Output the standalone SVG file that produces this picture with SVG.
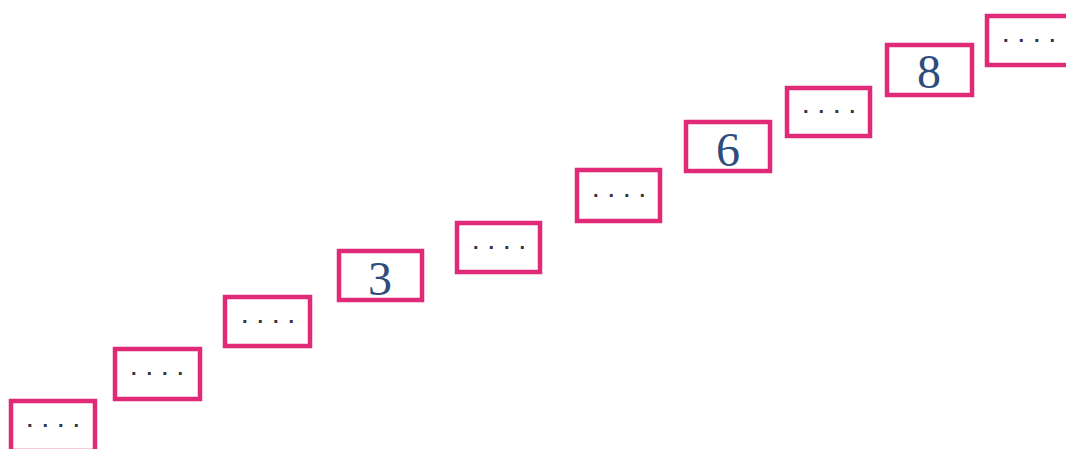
<svg xmlns="http://www.w3.org/2000/svg" width="1066" height="449" viewBox="0 0 1066 449">
<style>
.box{fill:#ffffff;stroke:#e02a78;stroke-width:4.5}
.dots{font-family:"Liberation Sans",Arial,sans-serif;font-size:20px;font-weight:bold;fill:#333340;text-anchor:middle;letter-spacing:10px}
.num{font-family:"Liberation Serif","Times New Roman",serif;font-size:48px;fill:#2e4d7c;text-anchor:middle}
</style>
<rect width="1066" height="449" fill="#ffffff"/>
<g id="node1"><rect class="box" x="11" y="401" width="84" height="50"/><text class="dots" x="58" y="427">....</text></g>
<g id="node2"><rect class="box" x="115" y="349" width="85" height="50"/><text class="dots" x="162" y="375">....</text></g>
<g id="node3"><rect class="box" x="225" y="297" width="85" height="49"/><text class="dots" x="273" y="323">....</text></g>
<g id="node4"><rect class="box" x="339" y="251" width="83" height="49"/><text class="num" x="380" y="295">3</text></g>
<g id="node5"><rect class="box" x="457" y="223" width="83" height="49"/><text class="dots" x="504" y="249">....</text></g>
<g id="node6"><rect class="box" x="577" y="170" width="83" height="51"/><text class="dots" x="624" y="197">....</text></g>
<g id="node7"><rect class="box" x="686" y="122" width="84" height="49"/><text class="num" x="728" y="166">6</text></g>
<g id="node8"><rect class="box" x="787" y="88" width="83" height="48"/><text class="dots" x="834" y="113">....</text></g>
<g id="node9"><rect class="box" x="887" y="45" width="85" height="50"/><text class="num" x="929" y="88">8</text></g>
<g id="node10"><rect class="box" x="987" y="16" width="85" height="49"/><text class="dots" x="1034" y="42">....</text></g>
<g id="connectors"></g>
</svg>
